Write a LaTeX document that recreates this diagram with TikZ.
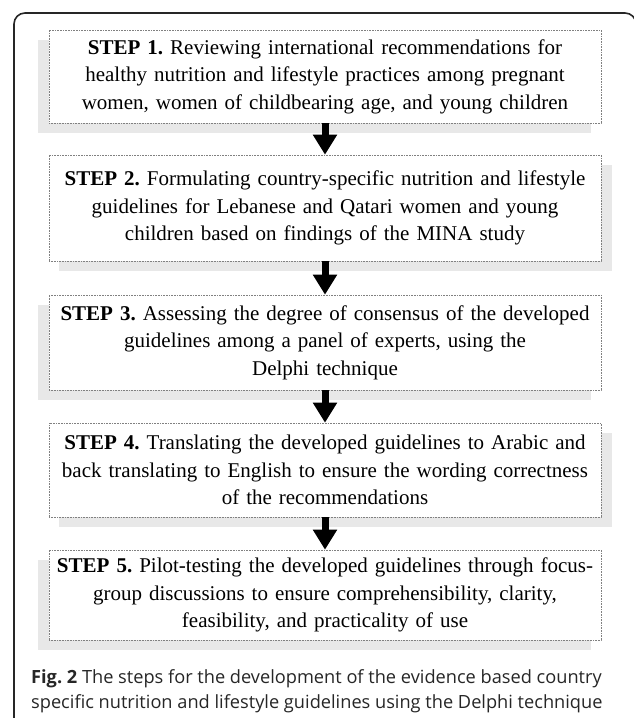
\documentclass[tikz,border=0pt]{standalone}
\usepackage{fontspec}
\setmainfont{Liberation Serif}
\newfontfamily\didascalia{Open Sans}
\usepackage{tikz}
\usetikzlibrary{arrows.meta, backgrounds}
\frenchspacing

\tikzset{
  passo/.style={draw=gray, densely dotted, line width=0.6pt, fill=white,
    minimum width=552pt, text width=548pt, inner sep=0pt, align=center,
    font=\fontsize{21}{27.5}\selectfont},
  ombra/.style={fill=black!9},
  freccia/.style={line width=7pt, -{Triangle[width=23pt,length=20pt]}}
}

\begin{document}
\begin{tikzpicture}[x=1pt, y=-1pt]
\useasboundingbox (0,0) rectangle (633,718);
% cornice esterna
\draw[line width=1.6pt, black!85, rounded corners=11pt] (14,760) -- (14,13) -- (636,13) -- (636,760);
% passo 1
\node[passo, minimum height=93pt] (s1) at (325,76.5)
  {\textbf{STEP 1.} Reviewing international recommendations for\\
   healthy nutrition and lifestyle practices among pregnant\\
   women, women of childbearing age, and young children};
% passo 2
\node[passo, minimum height=106pt] (s2) at (325,208)
  {\textbf{STEP 2.} Formulating country-specific nutrition and lifestyle\\
   guidelines for Lebanese and Qatari women and young\\
   children based on findings of the MINA study};
% passo 3
\node[passo, minimum height=95pt] (s3) at (325,342.5)
  {\textbf{STEP 3.} Assessing the degree of consensus of the developed\\
   guidelines among a panel of experts, using the\\
   Delphi technique};
% passo 4
\node[passo, minimum height=94pt] (s4) at (325,470)
  {\textbf{STEP 4.} Translating the developed guidelines to Arabic and\\
   back translating to English to ensure the wording correctness\\
   of the recommendations};
% passo 5
\node[passo, minimum height=90pt] (s5) at (325,595)
  {\textbf{STEP 5.} Pilot-testing the developed guidelines through focus-\\
   group discussions to ensure comprehensibility, clarity,\\
   feasibility, and practicality of use};
% ombre, sotto i riquadri
\begin{scope}[on background layer]
\fill[ombra] ([shift={(-10.5,10)}]s1.north west) rectangle ([shift={(-10.5,10)}]s1.south east);
\fill[ombra] ([shift={(10.5,10)}]s2.north west) rectangle ([shift={(10.5,10)}]s2.south east);
\fill[ombra] ([shift={(-10.5,10)}]s3.north west) rectangle ([shift={(-10.5,10)}]s3.south east);
\fill[ombra] ([shift={(10.5,10)}]s4.north west) rectangle ([shift={(10.5,10)}]s4.south east);
\fill[ombra] ([shift={(-10.5,10)}]s5.north west) rectangle ([shift={(-10.5,10)}]s5.south east);
\end{scope}
% frecce
\draw[freccia] (s1) -- (s2);
\draw[freccia] (s2) -- (s3);
\draw[freccia] (s3) -- (s4);
\draw[freccia] (s4) -- (s5);
% didascalia
\node[anchor=north west, inner sep=0pt, align=left, text=black!85,
  font=\didascalia\fontsize{18.2}{25}\selectfont] (cap) at (31,669)
  {\textbf{Fig. 2} The steps for the development of the evidence based country\\
   specific nutrition and lifestyle guidelines using the Delphi technique};
\end{tikzpicture}
\end{document}
